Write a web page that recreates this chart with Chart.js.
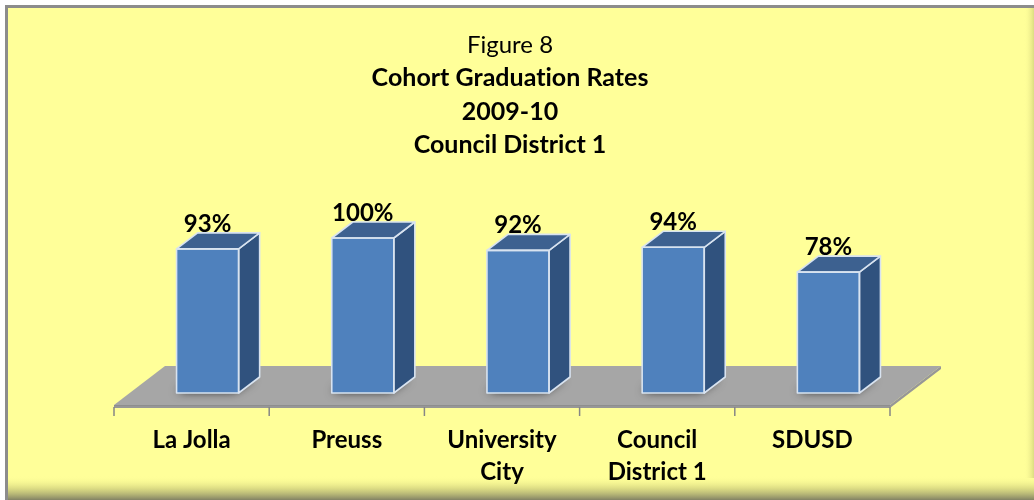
<!DOCTYPE html>
<html>
<head>
<meta charset="utf-8">
<script src="https://cdn.jsdelivr.net/npm/chart.js@4.4.1/dist/chart.umd.min.js"></script>
<style>
  html, body { margin: 0; padding: 0; background: #ffffff; }
  #wrap { width: 1034px; height: 500px; position: relative; }
  canvas { font-variant-ligatures: none; }
</style>
</head>
<body>
<div id="wrap"><canvas id="c" width="1034" height="500"></canvas></div>
<script>
// ---- data ----
const categories = ['La Jolla', 'Preuss', ['University', 'City'], ['Council', 'District 1'], 'SDUSD'];
const rates = [93, 100, 92, 94, 78];
const titleText = 'Figure 8';
const subtitleLines = ['Cohort Graduation Rates', '2009-10', 'Council District 1'];

// ---- style ----
const FONT = 'Lato, "Open Sans", sans-serif';
const BAR_DX = 21, BAR_DY = 16;      // bar depth
const FLOOR_FRONT = { dx: -16, dy: 12 };
const FLOOR_BACK = { dx: 35, dy: -27 };

const backgroundPlugin = {
  id: 'bg',
  beforeDraw(chart) {
    const { ctx, width, height } = chart;
    try { ctx.textRendering = 'optimizeSpeed'; } catch (e) {}
    try { ctx.letterSpacing = '0.01px'; } catch (e) {}
    ctx.save();
    ctx.fillStyle = '#ffffff';
    ctx.fillRect(0, 0, width, height);
    ctx.fillStyle = '#8c8c8c';
    ctx.fillRect(5, 5, width - 5, height - 5);
    ctx.fillStyle = '#FFFF99';
    ctx.fillRect(8, 8, width - 8, height - 8);
    // bottom shadow band
    let g = ctx.createLinearGradient(0, 476, 0, 500);
    g.addColorStop(0, 'rgba(255,255,153,0)');
    g.addColorStop(0.5, 'rgba(200,200,120,0.6)');
    g.addColorStop(1, 'rgba(130,130,100,1)');
    ctx.fillStyle = g;
    ctx.fillRect(8, 476, width - 8, 24);
    // right fade
    g = ctx.createLinearGradient(1024, 0, 1034, 0);
    g.addColorStop(0, 'rgba(255,255,153,0)');
    g.addColorStop(1, 'rgba(220,220,130,1)');
    ctx.fillStyle = g;
    ctx.fillRect(1024, 8, 10, 470);
    ctx.restore();
  }
};

const floorPlugin = {
  id: 'floor',
  beforeDatasetsDraw(chart) {
    const { ctx, chartArea } = chart;
    const xs = chart.scales.x;
    const n = categories.length;
    const l = xs.getPixelForValue(-0.5), r = xs.getPixelForValue(n - 0.5);
    const b = chartArea.bottom;
    const fl = l + FLOOR_FRONT.dx, fr = r + FLOOR_FRONT.dx, fy = b + FLOOR_FRONT.dy;
    const bl = l + FLOOR_BACK.dx, br = r + FLOOR_BACK.dx, by = b + FLOOR_BACK.dy;
    ctx.save();
    // front thickness
    ctx.fillStyle = '#979797';
    ctx.beginPath();
    ctx.moveTo(fl, fy); ctx.lineTo(fr, fy); ctx.lineTo(br, by); ctx.lineTo(br, by + 3); ctx.lineTo(fr, fy + 3); ctx.lineTo(fl, fy + 3);
    ctx.closePath(); ctx.fill();
    // top surface
    ctx.fillStyle = '#A6A6A6';
    ctx.beginPath();
    ctx.moveTo(fl, fy); ctx.lineTo(fr, fy); ctx.lineTo(br, by); ctx.lineTo(bl, by);
    ctx.closePath(); ctx.fill();
    ctx.strokeStyle = '#8e8e8e';
    ctx.lineWidth = 1;
    ctx.beginPath(); ctx.moveTo(fl, fy + 0.5); ctx.lineTo(fr, fy + 0.5); ctx.stroke();
    // tick marks
    ctx.strokeStyle = '#868686';
    ctx.lineWidth = 1.5;
    for (let i = 0; i <= n; i++) {
      const x = xs.getPixelForValue(i - 0.5) + FLOOR_FRONT.dx;
      ctx.beginPath(); ctx.moveTo(x, fy + 2); ctx.lineTo(x, fy + 11); ctx.stroke();
    }
    // bar shadows
    const meta = chart.getDatasetMeta(0);
    meta.data.forEach(bar => {
      const hw = bar.width / 2;
      ctx.save();
      ctx.shadowColor = 'rgba(0,0,0,0.8)';
      ctx.shadowBlur = 10;
      ctx.shadowOffsetX = -4;
      ctx.shadowOffsetY = 2;
      ctx.fillStyle = '#4a4a4a';
      ctx.beginPath();
      ctx.moveTo(bar.x - hw + 4, bar.base - 3);
      ctx.lineTo(bar.x + hw, bar.base - 3);
      ctx.lineTo(bar.x + hw + BAR_DX - 2, bar.base - BAR_DY);
      ctx.lineTo(bar.x - hw + BAR_DX, bar.base - BAR_DY);
      ctx.closePath(); ctx.fill();
      ctx.restore();
    });
    ctx.restore();
  },
  afterDatasetsDraw(chart) {
    const { ctx } = chart;
    const meta = chart.getDatasetMeta(0);
    ctx.save();
    ctx.lineWidth = 1.6;
    ctx.strokeStyle = '#D8E3F0';
    ctx.lineJoin = 'round';
    meta.data.forEach((bar, i) => {
      const hw = bar.width / 2;
      const x0 = bar.x - hw, x1 = bar.x + hw, yt = bar.y, yb = bar.base;
      // side face
      ctx.fillStyle = '#30527E';
      ctx.beginPath();
      ctx.moveTo(x1, yt); ctx.lineTo(x1 + BAR_DX, yt - BAR_DY); ctx.lineTo(x1 + BAR_DX, yb - BAR_DY); ctx.lineTo(x1, yb);
      ctx.closePath(); ctx.fill(); ctx.stroke();
      // top face
      ctx.fillStyle = '#3D6190';
      ctx.beginPath();
      ctx.moveTo(x0, yt); ctx.lineTo(x1, yt); ctx.lineTo(x1 + BAR_DX, yt - BAR_DY); ctx.lineTo(x0 + BAR_DX, yt - BAR_DY);
      ctx.closePath(); ctx.fill(); ctx.stroke();
      // front outline
      ctx.strokeRect(x0, yt, bar.width, yb - yt);
      // value label
      ctx.fillStyle = '#000000';
      ctx.font = 'bold 24px ' + FONT;
      ctx.textAlign = 'center';
      ctx.textBaseline = 'alphabetic';
      ctx.fillText(rates[i] + '%', bar.x, yt - BAR_DY - 1);
    });
    ctx.restore();
  }
};

new Chart(document.getElementById('c'), {
  type: 'bar',
  data: {
    labels: categories,
    datasets: [{
      data: rates,
      backgroundColor: '#4F81BD',
      borderWidth: 0,
      categoryPercentage: 1,
      barPercentage: 0.4
    }]
  },
  options: {
    responsive: false,
    animation: false,
    events: [],
    layout: { padding: { left: 114, right: 128, top: 0, bottom: 0 } },
    plugins: {
      legend: { display: false },
      tooltip: { enabled: false },
      title: {
        display: true,
        text: titleText,
        color: '#000000',
        font: { family: FONT, size: 24, weight: 'normal', lineHeight: 1.2 },
        padding: { top: 30.6, bottom: 0 }
      },
      subtitle: {
        display: true,
        text: subtitleLines,
        color: '#000000',
        font: { family: FONT, size: 25, weight: 'bold', lineHeight: 1.34 },
        padding: { top: 1.9, bottom: 45.2 }
      }
    },
    scales: {
      x: {
        grid: { display: false, drawTicks: false },
        border: { display: false },
        ticks: {
          color: '#000000',
          font: { family: FONT, size: 24, weight: 'bold', lineHeight: 1.333 },
          labelOffset: -16,
          padding: 31,
          maxRotation: 0,
          autoSkip: false
        },
        afterFit(scale) { scale.height = 107; }
      },
      y: {
        min: 0,
        max: 120,
        display: true,
        grid: { display: false, drawTicks: false },
        border: { display: false },
        ticks: { display: false },
        afterFit(scale) { scale.width = 16; }
      }
    }
  },
  plugins: [backgroundPlugin, floorPlugin]
});
</script>
</body>
</html>
